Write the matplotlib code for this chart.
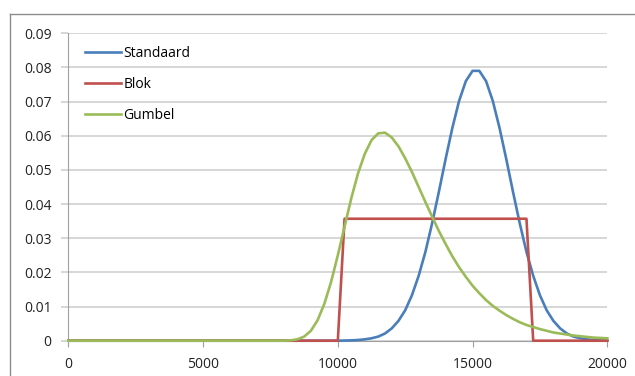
import numpy as np
import matplotlib
matplotlib.use("Agg")
import matplotlib.pyplot as plt
from matplotlib.lines import Line2D

plt.rcParams['font.family'] = ['Open Sans', 'DejaVu Sans']

# x in stappen van 250
x = np.arange(0, 20001, 250)

standaard = [0.0] * 41 + [
    0.00005, 0.0001, 0.0002, 0.0004, 0.0007, 0.0012, 0.0021, 0.0036, 0.0058, 0.0089,
    0.0133, 0.0190, 0.0260, 0.0344, 0.0436, 0.0532, 0.0623, 0.0702, 0.0760, 0.0790,
    0.0790, 0.0760, 0.0702, 0.0623, 0.0532, 0.0436, 0.0344, 0.0260, 0.0190, 0.0133,
    0.0089, 0.0058, 0.0036, 0.0021, 0.0012, 0.0007, 0.0004, 0.0002, 0.0001, 0.00005]

blok = [0.0] * 41 + [0.0357] * 28 + [0.0] * 12

gumbel = [0.0] * 33 + [
    0.0001, 0.0004, 0.0012, 0.0029, 0.0060, 0.0108, 0.0172, 0.0250, 0.0334, 0.0417,
    0.0490, 0.0547, 0.0587, 0.0607, 0.0609, 0.0595, 0.0569, 0.0534, 0.0494, 0.0450,
    0.0406, 0.0363, 0.0321, 0.0283, 0.0247, 0.0215, 0.0187, 0.0161, 0.0139, 0.0119,
    0.0102, 0.0088, 0.0075, 0.0064, 0.0054, 0.0046, 0.0040, 0.0034, 0.0029, 0.0024,
    0.0021, 0.0018, 0.0015, 0.0013, 0.0011, 0.0009, 0.0008, 0.0007]

names = ["Standaard", "Blok", "Gumbel"]
colors = ["#4a7ebb", "#c0504d", "#9bbb59"]

fig = plt.figure(figsize=(6.35, 3.76), dpi=100)
ax = fig.add_axes([0.1076, 0.0939, 0.8488, 0.8176])

for y, name, c in zip([standaard, blok, gumbel], names, colors):
    ax.plot(x, y, color=c, lw=1.9, label=name, clip_on=False, zorder=3)

ax.set_xlim(0, 20000)
ax.set_ylim(0, 0.09)
ax.set_xticks(np.arange(0, 20001, 5000))
ax.set_yticks(np.arange(0, 0.091, 0.01))
ax.set_yticklabels(["0"] + ["%.2f" % v for v in np.arange(0.01, 0.091, 0.01)])

ax.grid(axis='y', color='#d0d0d0', lw=1.2)
ax.set_axisbelow(True)
for s in ['top', 'right']:
    ax.spines[s].set_visible(False)
ax.spines['left'].set_color('#a0a0a0')
ax.spines['bottom'].set_color('#a0a0a0')
ax.tick_params(axis='y', length=5, color='#d0d0d0', width=1.2, pad=7, labelsize=10, labelcolor='#222222')
ax.tick_params(axis='x', length=4, color='#a0a0a0', pad=8, labelsize=10, labelcolor='#222222')

ax.legend(loc='upper left', bbox_to_anchor=(0.0, 1.013), frameon=False, fontsize=10,
          handlelength=2.6, handletextpad=0.15, labelspacing=1.15, borderaxespad=0.8)

# kader rond grafiek
fig.add_artist(Line2D([10 / 635, 1], [1 - 14 / 376] * 2, color='#8c8c8c', lw=1))
fig.add_artist(Line2D([10 / 635] * 2, [0, 1 - 14 / 376], color='#8c8c8c', lw=1))

fig.savefig("out.png", dpi=100)
